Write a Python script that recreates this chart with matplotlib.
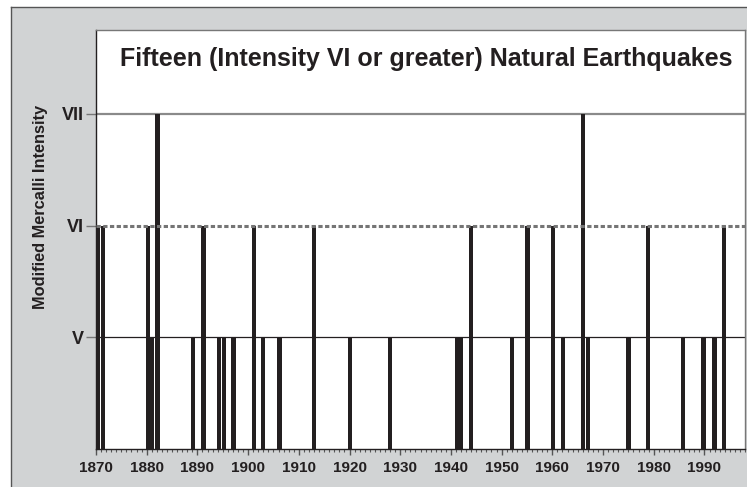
import matplotlib
matplotlib.use("Agg")
import matplotlib.pyplot as plt
from matplotlib.patches import Rectangle
from matplotlib.lines import Line2D
from matplotlib.ticker import MultipleLocator

plt.rcParams['font.family'] = ['Liberation Sans', 'DejaVu Sans']

# Data: year of each natural earthquake and its Modified Mercalli intensity (5=V, 6=VI, 7=VII)
years = [1870.4, 1871.4, 1880.2, 1881.1, 1882.1, 1889.1, 1891.2, 1894.2, 1895.2, 1897.1,
         1901.1, 1903.0, 1906.2, 1913.0, 1920.1, 1928.0, 1941.3, 1942.0, 1944.0, 1952.1,
         1955.1, 1960.2, 1962.1, 1966.1, 1967.1, 1975.0, 1978.9, 1985.8, 1989.8, 1992.0,
         1993.8]
intensity = [6, 6, 6, 5, 7, 5, 6, 5, 5, 5,
             6, 5, 5, 6, 5, 5, 5, 5, 6, 5,
             6, 6, 5, 7, 5, 5, 6, 5, 5, 5,
             6]
ytick_vals = [5, 6, 7]
ytick_labels = ["V", "VI", "VII"]
xtick_years = list(range(1870, 2000, 10))
title = "Fifteen (Intensity VI or greater) Natural Earthquakes"
ylabel = "Modified Mercalli Intensity"

W, H = 747, 487
fig = plt.figure(figsize=(W / 100, H / 100), dpi=100, facecolor="white")

# gray panel with thin border
fig.patches.append(Rectangle((11 / W, 0), 1, 1 - 7 / H, transform=fig.transFigure,
                             facecolor="#d1d3d4", edgecolor="none", zorder=-10))
fig.lines.append(Line2D([11 / W, 1], [1 - 7 / H, 1 - 7 / H], transform=fig.transFigure,
                        color="#555555", lw=1.0, zorder=-5))
fig.lines.append(Line2D([11 / W, 11 / W], [0, 1 - 7 / H], transform=fig.transFigure,
                        color="#555555", lw=1.0, zorder=-5))

left, right, top, bottom = 96, 745, 30, 449
ax = fig.add_axes([left / W, 1 - bottom / H, (right - left) / W, (bottom - top) / H])
ax.set_zorder(5)
ax.set_facecolor("white")

ax.set_xlim(1870, 1998)
ax.set_ylim(4, 7.75)

# reference lines
ax.axhline(7, color="#8a8a8a", lw=1.6, zorder=1)
ax.axhline(5, color="#231f20", lw=0.9, zorder=1)
ax.axhline(6, color="#757575", lw=2.2, dashes=(1.4, 0.8), zorder=3)

ax.bar(years, intensity, width=0.85, color="#231f20", zorder=2, align="center")

ax.set_yticks(ytick_vals)
ax.set_yticklabels(ytick_labels, fontsize=13, fontweight="bold", color="#231f20")
ax.tick_params(axis="y", direction="out", length=7, width=1, color="#777777", pad=2)

ax.xaxis.set_major_locator(MultipleLocator(10))
ax.xaxis.set_minor_locator(MultipleLocator(1))
ax.set_xticks(xtick_years)
ax.set_xticklabels([str(y) for y in xtick_years], fontsize=11, fontweight="bold",
                   color="#231f20")
ax.tick_params(axis="x", which="major", direction="out", length=4.5, width=1,
               color="#555555", pad=4.5)
ax.tick_params(axis="x", which="minor", direction="out", length=2.2, width=0.8,
               color="#555555")

for s in ["left", "bottom"]:
    ax.spines[s].set_color("#231f20")
    ax.spines[s].set_linewidth(1.0)
for s in ["top", "right"]:
    ax.spines[s].set_color("#777777")
    ax.spines[s].set_linewidth(1.0)

ax.text(0.509, 0.931, title, transform=ax.transAxes, ha="center", va="center",
        fontsize=18, fontweight="bold", color="#231f20")

fig.text(41 / W, 1 - 207 / H, ylabel, rotation=90, ha="center", va="center",
         fontsize=11.8, fontweight="bold", color="#231f20")

fig.savefig("out.png", dpi=100, facecolor="white")
